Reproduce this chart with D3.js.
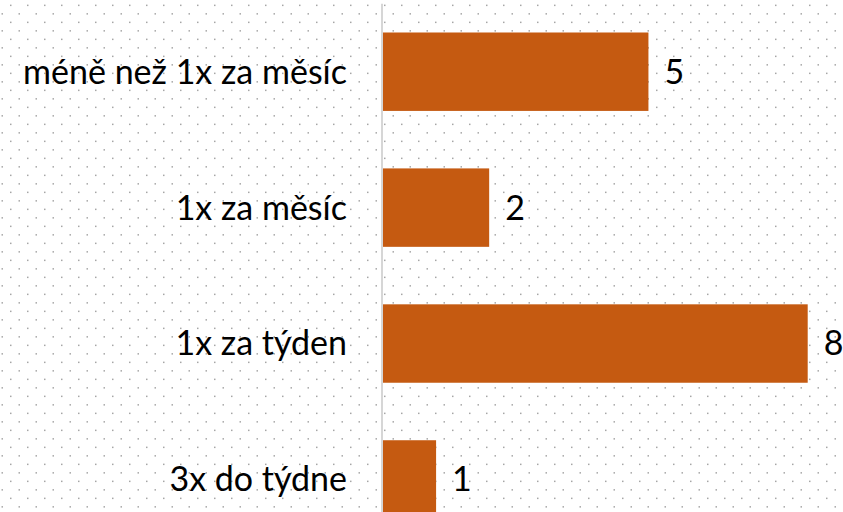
<!DOCTYPE html>
<html>
<head>
<meta charset="utf-8">
<script src="https://cdn.jsdelivr.net/npm/d3@7"></script>
<style>
html,body{margin:0;padding:0;background:#fff;overflow:hidden;}
svg{display:block;}
</style>
</head>
<body>
<svg id="chart" width="843" height="512"></svg>
<script>
const categories = ["méně než 1x za měsíc", "1x za měsíc", "1x za týden", "3x do týdne"];
const values = [5, 2, 8, 1];
const xMax = 8;

const W = 843, H = 512;
const svg = d3.select("#chart");

// dotted background pattern
const defs = svg.append("defs");
const pat = defs.append("pattern")
  .attr("id", "dots").attr("patternUnits", "userSpaceOnUse")
  .attr("width", 17).attr("height", 17)
  .attr("x", 0).attr("y", 0);
pat.append("rect").attr("x", 10).attr("y", 4.6).attr("width", 1.5).attr("height", 1.5).attr("fill", "#a6a6a6");
pat.append("rect").attr("x", 1.5).attr("y", 13.1).attr("width", 1.5).attr("height", 1.5).attr("fill", "#a6a6a6");
svg.append("rect").attr("width", W).attr("height", H).attr("fill", "#fff");
svg.append("rect").attr("width", W).attr("height", H).attr("fill", "url(#dots)");

const pInner = 0.423;
const y = d3.scaleBand().domain(categories).range([3.75, 547.4])
  .paddingInner(pInner).paddingOuter(pInner / 2);
const x = d3.scaleLinear().domain([0, xMax]).range([383, 807.7]);

const font = "Lato, 'Open Sans', sans-serif";
const fs = 34;

// bars
svg.append("g").selectAll("rect").data(values).join("rect")
  .attr("x", x(0))
  .attr("y", (d, i) => y(categories[i]))
  .attr("width", d => x(d) - x(0))
  .attr("height", y.bandwidth())
  .attr("fill", "#C55A11");

// axis line
svg.append("line")
  .attr("x1", x(0) - 1).attr("x2", x(0) - 1)
  .attr("y1", y.range()[0]).attr("y2", H)
  .attr("stroke", "#d6d6d6").attr("stroke-width", 2);

// category labels
const axis = d3.axisLeft(y).tickSize(0).tickPadding(36);
const ag = svg.append("g").attr("transform", `translate(${x(0)},0)`).call(axis);
ag.select(".domain").remove();
ag.selectAll("text")
  .attr("font-family", font).attr("font-size", fs).attr("fill", "#000")
  .attr("dy", "0.35em");

// value labels
svg.append("g").selectAll("text").data(values).join("text")
  .attr("x", d => x(d) + 16)
  .attr("y", (d, i) => y(categories[i]) + y.bandwidth() / 2)
  .attr("dy", "0.35em")
  .attr("font-family", font).attr("font-size", fs).attr("fill", "#000")
  .text(d => d);
</script>
</body>
</html>
